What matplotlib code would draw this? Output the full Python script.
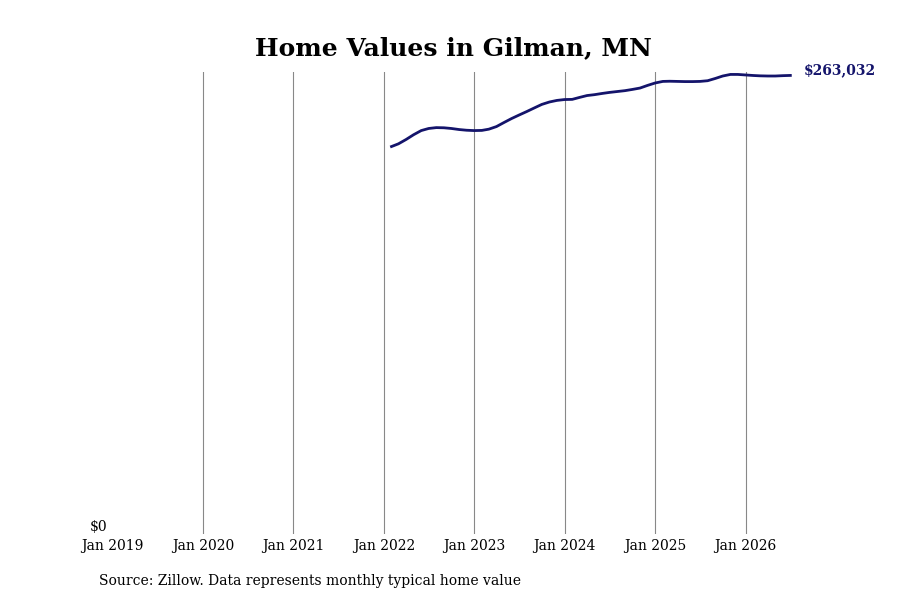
import pandas as pd
import matplotlib.pyplot as plt
import matplotlib.dates as mdates

plt.rcParams['font.family'] = ['DejaVu Serif']

# monthly typical home value, Feb 2022 - Jul 2026
dates = pd.date_range("2022-02-01", "2026-07-01", freq="MS")
values = [
    222250, 223800, 226300, 229000, 231400, 232600, 233100, 233000, 232600, 232000, 231600,
    231400, 231500, 232200, 233700, 236000, 238300, 240300, 242300, 244400, 246400, 247800, 248700,
    249200, 249300, 250400, 251500, 252000, 252700, 253300, 253800, 254300, 255000, 255800, 257300,
    258700, 259600, 259700, 259600, 259500, 259500, 259600, 260000, 261300, 262700, 263600, 263600,
    263300, 263000, 262800, 262700, 262700, 262900, 263032,
]
last_label = "$263,032"
xticks = pd.date_range("2019-01-01", "2026-01-01", freq="YS")

fig, ax = plt.subplots(figsize=(9, 6), dpi=100)
fig.subplots_adjust(left=0.125, right=0.882, top=0.88, bottom=0.11)

ax.plot(dates, values, color="#14146b", linewidth=2)
ax.set_xlim(pd.Timestamp("2019-01-01"), pd.Timestamp("2026-07-15"))
ax.set_ylim(0, 265000)
ax.set_xticks(xticks)
ax.xaxis.set_major_formatter(mdates.DateFormatter("%b %Y"))
ax.set_yticks([0])
ax.set_yticklabels(["$0"])
ax.tick_params(length=0, labelsize=10)
ax.tick_params(axis="y", pad=4)
for lbl in ax.get_yticklabels():
    lbl.set_va("bottom")
for d in xticks[1:]:
    ax.axvline(d, color="#888888", linewidth=0.8, zorder=0)
for s in ax.spines.values():
    s.set_visible(False)

ax.annotate(last_label, (dates[-1], values[-1]), xytext=(10, 4), textcoords="offset points",
            color="#14146b", fontweight="bold", fontsize=10, va="center")
ax.set_title("Home Values in Gilman, MN", fontsize=18, fontweight="bold", pad=12)
fig.text(0.11, 0.025, "Source: Zillow. Data represents monthly typical home value", fontsize=10)

fig.savefig("out.png")
